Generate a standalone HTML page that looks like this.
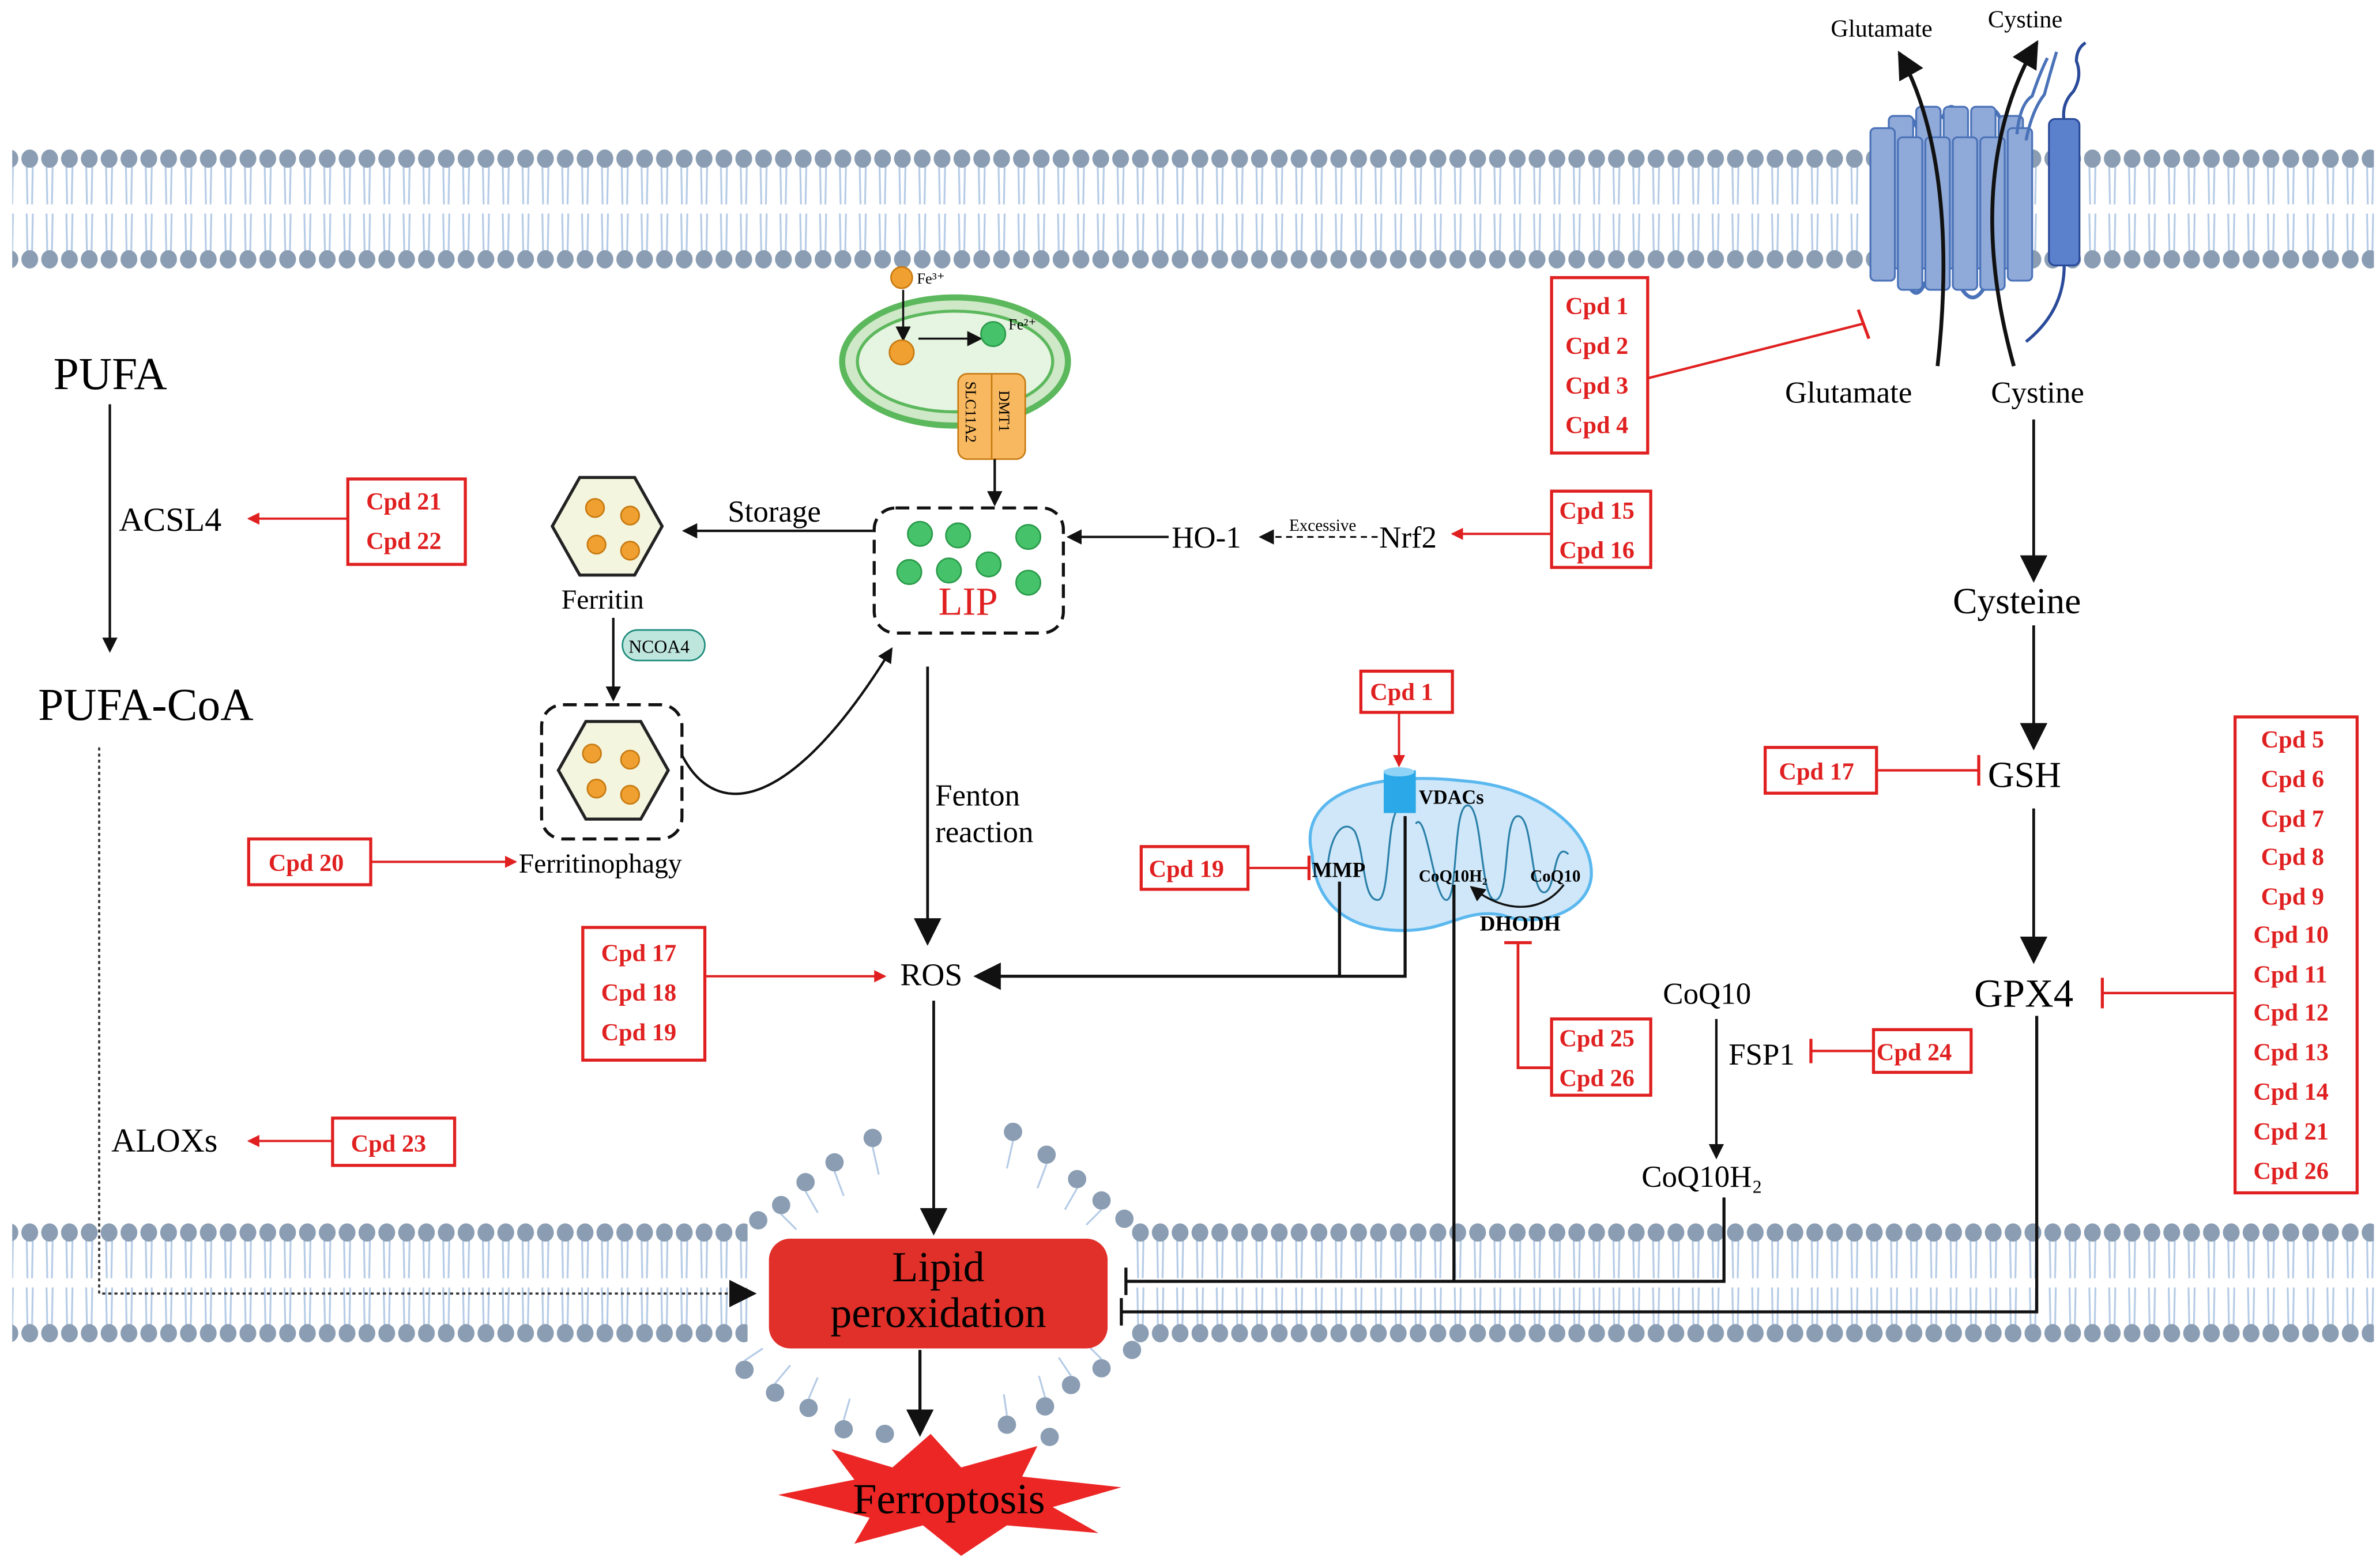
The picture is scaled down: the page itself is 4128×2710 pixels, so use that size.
<!DOCTYPE html>
<html><head><meta charset="utf-8"><style>
html,body{margin:0;padding:0;background:#fff;width:4128px;height:2710px;overflow:hidden}
svg{display:block}
text{font-family:"Liberation Serif",serif}
.c{fill:#e02020;font-weight:bold;font-size:16px}
</style></head><body>
<svg width="4128" height="2710" viewBox="0 0 1560 1024" preserveAspectRatio="none" xmlns="http://www.w3.org/2000/svg">
<defs>
<pattern id="mem1" x="0" y="98" width="13" height="80" patternUnits="userSpaceOnUse">
<path d="M4.5 10 L5 36 M8.5 10 L8 36 M4.5 42 L5 68 M8.5 42 L8 68" stroke="#b5cbe6" stroke-width="1.2" fill="none"/>
<ellipse cx="6.5" cy="6" rx="5.5" ry="6" fill="#8a9db3"/>
<ellipse cx="6.5" cy="72" rx="5.5" ry="6" fill="#8a9db3"/>
</pattern>
<pattern id="mem2" x="0" y="802" width="13" height="80" patternUnits="userSpaceOnUse">
<path d="M4.5 10 L5 36 M8.5 10 L8 36 M4.5 42 L5 68 M8.5 42 L8 68" stroke="#b5cbe6" stroke-width="1.2" fill="none"/>
<ellipse cx="6.5" cy="6" rx="5.5" ry="6" fill="#8a9db3"/>
<ellipse cx="6.5" cy="72" rx="5.5" ry="6" fill="#8a9db3"/>
</pattern>
<marker id="ab" markerWidth="10" markerHeight="10" refX="8" refY="5" orient="auto" markerUnits="userSpaceOnUse"><path d="M0 0 L10 5 L0 10 Z" fill="#111"/></marker>
<marker id="abig" markerWidth="18" markerHeight="18" refX="16" refY="9" orient="auto" markerUnits="userSpaceOnUse"><path d="M0 0 L18 9 L0 18 Z" fill="#111"/></marker>
<marker id="ar" markerWidth="8" markerHeight="8" refX="7" refY="4" orient="auto" markerUnits="userSpaceOnUse"><path d="M0 0 L8 4 L0 8 Z" fill="#e02020"/></marker>
</defs>
<!-- membranes -->
<rect x="8" y="98" width="1548" height="80" fill="url(#mem1)"/>
<rect x="8" y="802" width="482" height="80" fill="url(#mem2)"/>
<rect x="742" y="802" width="814" height="80" fill="url(#mem2)"/>
<!-- curled lipids around gap -->
<g stroke="#b5cbe6" stroke-width="1.2" fill="none">
<path d="M572 752 l4 18 M547 768 l6 16 M528 781 l8 14 M512 796 l10 10"/>
<path d="M664 748 l-4 18 M686 763 l-6 16 M706 779 l-8 14 M722 793 l-10 10"/>
<path d="M488 892 l12 -8 M508 907 l10 -12 M530 917 l6 -14 M553 931 l4 -14"/>
<path d="M722 891 l-10 -10 M702 902 l-8 -12 M685 916 l-4 -14 M660 928 l-2 -14"/>
</g>
<g fill="#8a9db3">
<circle cx="572" cy="746" r="6"/><circle cx="547" cy="762" r="6"/><circle cx="528" cy="775" r="6"/><circle cx="512" cy="790" r="6"/><circle cx="497" cy="800" r="6"/>
<circle cx="664" cy="742" r="6"/><circle cx="686" cy="757" r="6"/><circle cx="706" cy="773" r="6"/><circle cx="722" cy="787" r="6"/><circle cx="737" cy="799" r="6"/>
<circle cx="488" cy="898" r="6"/><circle cx="508" cy="913" r="6"/><circle cx="530" cy="923" r="6"/><circle cx="553" cy="937" r="6"/><circle cx="580" cy="940" r="6"/>
<circle cx="742" cy="885" r="6"/><circle cx="722" cy="897" r="6"/><circle cx="702" cy="908" r="6"/><circle cx="685" cy="922" r="6"/><circle cx="660" cy="934" r="6"/><circle cx="688" cy="942" r="6"/>
</g>
<!-- PUFA branch -->
<text x="35" y="255" font-size="30">PUFA</text>
<line x1="72" y1="265" x2="72" y2="426" stroke="#111" stroke-width="1.6" marker-end="url(#ab)"/>
<rect x="78" y="330" width="82" height="24" fill="#fff"/>
<text x="78" y="348" font-size="22">ACSL4</text>
<text x="25" y="472" font-size="30">PUFA-CoA</text>
<rect x="228" y="314" width="77" height="56" fill="#fff" stroke="#e02020" stroke-width="2"/>
<text class="c" x="240" y="334">Cpd 21</text><text class="c" x="240" y="360">Cpd 22</text>
<line x1="228" y1="340" x2="163" y2="340" stroke="#e02020" stroke-width="1.5" marker-end="url(#ar)"/>
<path d="M65 490 L65 848 L494 848" fill="none" stroke="#333" stroke-width="1.4" stroke-dasharray="2,2" marker-end="url(#abig)"/>
<text x="73" y="755" font-size="22">ALOXs</text>
<rect x="218" y="733" width="80" height="31" fill="#fff" stroke="#e02020" stroke-width="2"/>
<text class="c" x="230" y="755">Cpd 23</text>
<line x1="218" y1="748" x2="163" y2="748" stroke="#e02020" stroke-width="1.5" marker-end="url(#ar)"/>
<!-- Ferritin -->
<polygon points="362,345 380,313 416,313 434,345 416,377 380,377" fill="#f3f5df" stroke="#222" stroke-width="2"/>
<g fill="#f0a030" stroke="#c77a10"><circle cx="390" cy="333" r="6"/><circle cx="413" cy="338" r="6"/><circle cx="391" cy="357" r="6"/><circle cx="413" cy="361" r="6"/></g>
<text x="368" y="399" font-size="18">Ferritin</text>
<line x1="402" y1="405" x2="402" y2="458" stroke="#111" stroke-width="1.6" marker-end="url(#ab)"/>
<rect x="408" y="413" width="54" height="20" rx="10" fill="#bfe6dd" stroke="#1a8a7a"/>
<text x="412" y="428" font-size="12">NCOA4</text>
<rect x="355" y="462" width="92" height="88" rx="14" fill="none" stroke="#111" stroke-width="2" stroke-dasharray="9,5"/>
<polygon points="366,505 384,473 420,473 438,505 420,537 384,537" fill="#f3f5df" stroke="#222" stroke-width="2"/>
<g fill="#f0a030" stroke="#c77a10"><circle cx="388" cy="494" r="6"/><circle cx="413" cy="498" r="6"/><circle cx="391" cy="517" r="6"/><circle cx="413" cy="521" r="6"/></g>
<path d="M447 495 C470 540 520 530 584 426" fill="none" stroke="#111" stroke-width="1.6" marker-end="url(#ab)"/>
<text x="340" y="572" font-size="18">Ferritinophagy</text>
<rect x="163" y="550" width="80" height="30" fill="#fff" stroke="#e02020" stroke-width="2"/>
<text class="c" x="176" y="571">Cpd 20</text>
<line x1="243" y1="565" x2="338" y2="565" stroke="#e02020" stroke-width="1.5" marker-end="url(#ar)"/>
<text x="477" y="342" font-size="20">Storage</text>
<line x1="572" y1="348" x2="449" y2="348" stroke="#111" stroke-width="1.6" marker-end="url(#ab)"/>
<!-- endosome -->
<ellipse cx="626" cy="237" rx="74" ry="42" fill="#cfe8c8" stroke="#5cb85c" stroke-width="4"/>
<ellipse cx="626" cy="237" rx="64" ry="33" fill="#e6f4e2" stroke="#5cb85c" stroke-width="2"/>
<circle cx="591" cy="182" r="7" fill="#f0a030" stroke="#c77a10"/><text x="601" y="186" font-size="10">Fe³⁺</text>
<line x1="592" y1="190" x2="592" y2="222" stroke="#111" stroke-width="1.3" marker-end="url(#ab)"/>
<circle cx="591" cy="231" r="8" fill="#f0a030" stroke="#c77a10"/>
<line x1="602" y1="222" x2="642" y2="222" stroke="#111" stroke-width="1.3" marker-end="url(#ab)"/>
<circle cx="651" cy="219" r="8" fill="#46c36a" stroke="#2a9a4a"/><text x="661" y="216" font-size="10">Fe²⁺</text>
<rect x="628" y="245" width="44" height="56" rx="6" fill="#f8b860" stroke="#c77a10"/>
<line x1="650" y1="245" x2="650" y2="301" stroke="#c77a10"/>
<text x="655" y="256" font-size="10" transform="rotate(90 655 256)">DMT1</text>
<text x="633" y="250" font-size="10" transform="rotate(90 633 250)">SLC11A2</text>
<line x1="652" y1="301" x2="652" y2="330" stroke="#111" stroke-width="1.6" marker-end="url(#ab)"/>
<!-- LIP -->
<rect x="573" y="333" width="124" height="82" rx="14" fill="none" stroke="#111" stroke-width="2" stroke-dasharray="9,5"/>
<g fill="#46c36a" stroke="#2a9a4a"><circle cx="603" cy="350" r="8"/><circle cx="628" cy="351" r="8"/><circle cx="674" cy="352" r="8"/><circle cx="596" cy="375" r="8"/><circle cx="622" cy="374" r="8"/><circle cx="648" cy="370" r="8"/><circle cx="674" cy="382" r="8"/></g>
<text x="615" y="403" font-size="26" fill="#e02020">LIP</text>
<text x="768" y="359" font-size="20">HO-1</text>
<line x1="766" y1="352" x2="701" y2="352" stroke="#111" stroke-width="1.6" marker-end="url(#ab)"/>
<line x1="903" y1="352" x2="827" y2="352" stroke="#111" stroke-width="1.2" stroke-dasharray="4,3" marker-end="url(#ab)"/>
<text x="845" y="348" font-size="11">Excessive</text>
<text x="904" y="359" font-size="20">Nrf2</text>
<rect x="1017" y="322" width="65" height="50" fill="#fff" stroke="#e02020" stroke-width="2"/>
<text class="c" x="1022" y="340">Cpd 15</text><text class="c" x="1022" y="366">Cpd 16</text>
<line x1="1017" y1="350" x2="952" y2="350" stroke="#e02020" stroke-width="1.5" marker-end="url(#ar)"/>
<!-- Fenton & ROS -->
<line x1="608" y1="437" x2="608" y2="618" stroke="#111" stroke-width="1.8" marker-end="url(#abig)"/>
<text x="613" y="528" font-size="20">Fenton</text><text x="613" y="552" font-size="20">reaction</text>
<text x="590" y="646" font-size="21">ROS</text>
<rect x="382" y="608" width="80" height="87" fill="#fff" stroke="#e02020" stroke-width="2"/>
<text class="c" x="394" y="630">Cpd 17</text><text class="c" x="394" y="656">Cpd 18</text><text class="c" x="394" y="682">Cpd 19</text>
<line x1="462" y1="640" x2="580" y2="640" stroke="#e02020" stroke-width="1.5" marker-end="url(#ar)"/>
<line x1="612" y1="656" x2="612" y2="808" stroke="#111" stroke-width="1.8" marker-end="url(#abig)"/>
<!-- Mitochondrion -->
<path d="M860 560 C850 520 900 505 960 512 C1010 516 1045 545 1043 575 C1040 600 1005 608 985 600 C960 595 950 610 920 610 C880 610 862 590 860 560 Z" fill="#cfe7f8" stroke="#5bb8ef" stroke-width="2"/>
<path d="M870 575 C870 550 880 535 888 545 C895 560 893 590 903 590 C912 590 908 530 918 530 M928 540 C935 530 940 590 948 590 C956 590 952 528 962 528 C972 528 970 590 980 590 C990 590 985 535 995 535 C1005 535 1003 585 1012 585 C1020 585 1018 550 1028 560" fill="none" stroke="#2a7fa8" stroke-width="1.2"/>
<rect x="907" y="505" width="21" height="28" fill="#2aa8e8"/><ellipse cx="917" cy="506" rx="10" ry="3" fill="#8fd3f7"/>
<text x="930" y="527" font-size="13" font-weight="bold">VDACs</text>
<text x="860" y="575" font-size="14" font-weight="bold">MMP</text>
<text x="930" y="578" font-size="11" font-weight="bold">CoQ10H₂</text>
<text x="1003" y="578" font-size="11" font-weight="bold">CoQ10</text>
<path d="M1025 580 C1010 600 985 598 965 582" fill="none" stroke="#111" stroke-width="1.3" marker-end="url(#ab)"/>
<text x="970" y="610" font-size="14" font-weight="bold">DHODH</text>
<rect x="892" y="440" width="60" height="27" fill="#fff" stroke="#e02020" stroke-width="2"/>
<text class="c" x="898" y="459">Cpd 1</text>
<line x1="917" y1="467" x2="917" y2="502" stroke="#e02020" stroke-width="1.5" marker-end="url(#ar)"/>
<rect x="748" y="555" width="70" height="28" fill="#fff" stroke="#e02020" stroke-width="2"/>
<text class="c" x="753" y="575">Cpd 19</text>
<line x1="818" y1="569" x2="858" y2="569" stroke="#e02020" stroke-width="1.5"/><line x1="858" y1="561" x2="858" y2="577" stroke="#e02020" stroke-width="2"/>
<path d="M921 535 L921 640 L878 640 L878 578" fill="none" stroke="#111" stroke-width="2"/>
<line x1="878" y1="640" x2="640" y2="640" stroke="#111" stroke-width="2" marker-end="url(#abig)"/>
<rect x="1017" y="668" width="65" height="50" fill="#fff" stroke="#e02020" stroke-width="2"/>
<text class="c" x="1022" y="686">Cpd 25</text><text class="c" x="1022" y="712">Cpd 26</text>
<path d="M1017 700 L995 700 L995 618" fill="none" stroke="#e02020" stroke-width="1.8"/><line x1="986" y1="618" x2="1004" y2="618" stroke="#e02020" stroke-width="2"/>
<!-- CoQ10 / FSP1 -->
<text x="1090" y="658" font-size="20">CoQ10</text>
<line x1="1125" y1="668" x2="1125" y2="758" stroke="#111" stroke-width="1.6" marker-end="url(#ab)"/>
<rect x="1130" y="680" width="52" height="26" fill="#fff"/>
<text x="1133" y="698" font-size="20">FSP1</text>
<rect x="1228" y="675" width="64" height="28" fill="#fff" stroke="#e02020" stroke-width="2"/>
<text class="c" x="1230" y="695">Cpd 24</text>
<line x1="1228" y1="689" x2="1187" y2="689" stroke="#e02020" stroke-width="1.6"/><line x1="1187" y1="681" x2="1187" y2="697" stroke="#e02020" stroke-width="2"/>
<text x="1076" y="778" font-size="20">CoQ10H₂</text>
<path d="M953 580 L953 840 M1130 785 L1130 840 L738 840" fill="none" stroke="#111" stroke-width="2"/>
<line x1="738" y1="831" x2="738" y2="849" stroke="#111" stroke-width="2"/>
<path d="M1335 666 L1335 860 L735 860" fill="none" stroke="#111" stroke-width="2"/>
<line x1="735" y1="851" x2="735" y2="869" stroke="#111" stroke-width="2"/>
<!-- Lipid peroxidation -->
<rect x="504" y="812" width="222" height="72" rx="14" fill="#e1302a"/>
<text x="615" y="840" font-size="28" text-anchor="middle">Lipid</text>
<text x="615" y="870" font-size="28" text-anchor="middle">peroxidation</text>
<line x1="603" y1="885" x2="603" y2="940" stroke="#111" stroke-width="2" marker-end="url(#abig)"/>
<polygon points="510,980 560,970 545,950 585,962 610,940 630,962 680,948 670,968 735,975 690,988 720,1005 660,1000 630,1020 605,1000 560,1012 570,995" fill="#ec2525"/>
<text x="622" y="992" font-size="28" text-anchor="middle">Ferroptosis</text>
<!-- transporter -->
<g stroke="#4a72b8" stroke-width="1.2" fill="#8fa9d8">
<path d="M1245 85 q6 -16 12 0 M1273 78 q6 -16 12 0 M1300 80 q6 -16 12 0 M1250 185 q6 14 12 0 M1285 188 q8 14 16 0" fill="none" stroke-width="2.5"/>
<rect x="1238" y="76" width="16" height="100" rx="3"/><rect x="1256" y="70" width="16" height="106" rx="3"/><rect x="1274" y="70" width="16" height="106" rx="3"/><rect x="1292" y="70" width="16" height="106" rx="3"/><rect x="1310" y="76" width="16" height="100" rx="3"/>
<rect x="1226" y="84" width="16" height="100" rx="3"/><rect x="1244" y="90" width="16" height="100" rx="3"/><rect x="1262" y="90" width="16" height="100" rx="3"/><rect x="1280" y="90" width="16" height="100" rx="3"/><rect x="1298" y="90" width="16" height="100" rx="3"/><rect x="1316" y="84" width="16" height="100" rx="3"/>
</g>
<path d="M1322 88 q2 -20 10 -25 q5 -15 10 -25 M1328 92 q4 -20 12 -30 q4 -15 8 -28" fill="none" stroke="#4a72b8" stroke-width="2"/>
<path d="M1353 80 q-2 -12 6 -20 q6 -10 2 -20 q0 -8 6 -12" fill="none" stroke="#2a4a9a" stroke-width="2"/>
<rect x="1343" y="78" width="20" height="96" rx="4" fill="#5b80cc" stroke="#2a4a9a" stroke-width="1.2"/>
<path d="M1353 174 q0 30 -25 50" fill="none" stroke="#2a4a9a" stroke-width="2"/>
<path d="M1270 240 C1280 150 1270 80 1245 35" fill="none" stroke="#111" stroke-width="2.5" marker-end="url(#abig)"/>
<path d="M1320 240 C1295 150 1305 80 1335 28" fill="none" stroke="#111" stroke-width="2.5" marker-end="url(#abig)"/>
<text x="1200" y="24" font-size="16">Glutamate</text><text x="1303" y="18" font-size="16">Cystine</text>
<text x="1170" y="264" font-size="20">Glutamate</text><text x="1305" y="264" font-size="20">Cystine</text>
<rect x="1017" y="182" width="63" height="115" fill="#fff" stroke="#e02020" stroke-width="2"/>
<text class="c" x="1026" y="206">Cpd 1</text><text class="c" x="1026" y="232">Cpd 2</text><text class="c" x="1026" y="258">Cpd 3</text><text class="c" x="1026" y="284">Cpd 4</text>
<line x1="1080" y1="248" x2="1222" y2="212" stroke="#e02020" stroke-width="1.6"/><line x1="1218" y1="203" x2="1225" y2="222" stroke="#e02020" stroke-width="2"/>
<line x1="1333" y1="275" x2="1333" y2="380" stroke="#111" stroke-width="1.8" marker-end="url(#abig)"/>
<text x="1280" y="402" font-size="24">Cysteine</text>
<line x1="1333" y1="410" x2="1333" y2="490" stroke="#111" stroke-width="1.8" marker-end="url(#abig)"/>
<text x="1303" y="516" font-size="24">GSH</text>
<rect x="1157" y="490" width="73" height="30" fill="#fff" stroke="#e02020" stroke-width="2"/>
<text class="c" x="1166" y="511">Cpd 17</text>
<line x1="1230" y1="505" x2="1297" y2="505" stroke="#e02020" stroke-width="1.6"/><line x1="1297" y1="495" x2="1297" y2="515" stroke="#e02020" stroke-width="2"/>
<line x1="1333" y1="530" x2="1333" y2="630" stroke="#111" stroke-width="1.8" marker-end="url(#abig)"/>
<text x="1294" y="660" font-size="26">GPX4</text>
<rect x="1465" y="470" width="80" height="312" fill="#fff" stroke="#e02020" stroke-width="2"/>
<text class="c" x="1482" y="490">Cpd 5</text><text class="c" x="1482" y="516">Cpd 6</text><text class="c" x="1482" y="542">Cpd 7</text><text class="c" x="1482" y="567">Cpd 8</text><text class="c" x="1482" y="593">Cpd 9</text><text class="c" x="1477" y="618">Cpd 10</text><text class="c" x="1477" y="644">Cpd 11</text><text class="c" x="1477" y="669">Cpd 12</text><text class="c" x="1477" y="695">Cpd 13</text><text class="c" x="1477" y="721">Cpd 14</text><text class="c" x="1477" y="747">Cpd 21</text><text class="c" x="1477" y="773">Cpd 26</text>
<line x1="1465" y1="651" x2="1378" y2="651" stroke="#e02020" stroke-width="1.6"/><line x1="1378" y1="641" x2="1378" y2="661" stroke="#e02020" stroke-width="2"/>
</svg>
</body></html>
